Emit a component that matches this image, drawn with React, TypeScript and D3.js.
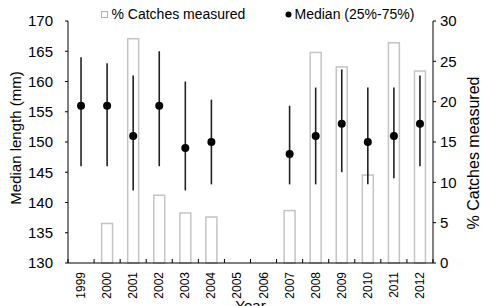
import React from 'react';
import * as d3 from 'd3';

const years = ['1999', '2000', '2001', '2002', '2003', '2004', '2005', '2006', '2007', '2008', '2009', '2010', '2011', '2012'];
// % catches measured (right axis); null = no bar
const pctMeasured = [null, 4.9, 27.8, 8.4, 6.2, 5.7, null, null, 6.5, 26.1, 24.3, 10.9, 27.3, 23.8];
// median length and 25%-75% range (left axis)
const median = [156, 156, 151, 156, 149, 150, null, null, 148, 151, 153, 150, 151, 153];
const q25 = [146, 146, 142, 146, 142, 143, null, null, 143, 143, 145, 143, 144, 146];
const q75 = [164, 163, 161, 165, 160, 157, null, null, 156, 159, 162, 159, 159, 161];
const leftTicks = [130, 135, 140, 145, 150, 155, 160, 165, 170];
const rightTicks = [0, 5, 10, 15, 20, 25, 30];

const W = 481;
const H = 306;
const margin = { top: 21, right: 48, bottom: 43, left: 68 };
const font = "'Liberation Sans', Arial, sans-serif";

export default function App() {
  const x0 = margin.left;
  const x1 = W - margin.right;
  const y0 = H - margin.bottom;
  const y1 = margin.top;

  const x = d3.scaleBand().domain(years).range([x0, x1]);
  const yL = d3.scaleLinear().domain([130, 170]).range([y0, y1]);
  const yR = d3.scaleLinear().domain([0, 30]).range([y0, y1]);
  const bw = x.bandwidth();
  const barW = bw * 0.42;
  const boundaries = d3.range(years.length + 1).map(i => x0 + i * bw);

  return (
    <svg width={W} height={H} style={{ position: 'absolute', left: 0, top: 0, background: '#fff' }} fontFamily={font}>
      {/* bars */}
      {years.map((yr, i) => pctMeasured[i] == null ? null : (
        <rect key={'b' + yr}
          x={x(yr)! + bw / 2 - barW / 2} y={yR(pctMeasured[i]!)}
          width={barW} height={y0 - yR(pctMeasured[i]!)}
          fill="#fff" stroke="#c4c4c4" strokeWidth={1.5} />
      ))}
      {/* whiskers and medians */}
      {years.map((yr, i) => median[i] == null ? null : (
        <g key={'m' + yr}>
          <line x1={x(yr)! + bw / 2} x2={x(yr)! + bw / 2} y1={yL(q25[i]!)} y2={yL(q75[i]!)} stroke="#222" strokeWidth={1.6} />
          <circle cx={x(yr)! + bw / 2} cy={yL(median[i]!)} r={4} fill="#000" />
        </g>
      ))}
      {/* axes */}
      <g stroke="#000" strokeWidth={1}>
        <line x1={x0} x2={x0} y1={y1} y2={y0} />
        <line x1={x1} x2={x1} y1={y1} y2={y0} />
        <line x1={x0} x2={x1} y1={y0} y2={y0} />
        {leftTicks.map(t => <line key={'lt' + t} x1={x0 - 3} x2={x0} y1={yL(t)} y2={yL(t)} />)}
        {rightTicks.map(t => <line key={'rt' + t} x1={x1} x2={x1 + 3} y1={yR(t)} y2={yR(t)} />)}
        {boundaries.map((b, i) => <line key={'bt' + i} x1={b} x2={b} y1={y0} y2={y0 - 4} />)}
      </g>
      {leftTicks.map(t => (
        <text key={'ll' + t} x={x0 - 15} y={yL(t)} dy="0.36em" textAnchor="end" fontSize={15}>{t}</text>
      ))}
      {rightTicks.map(t => (
        <text key={'rl' + t} x={x1 + 7} y={yR(t)} dy="0.36em" textAnchor="start" fontSize={15}>{t}</text>
      ))}
      {years.map(yr => (
        <text key={'xl' + yr} transform={`translate(${x(yr)! + bw / 2 + 4},${y0 + 9}) rotate(-90)`}
          textAnchor="end" fontSize={12}>{yr}</text>
      ))}
      <text x={(x0 + x1) / 2} y={311} textAnchor="middle" fontSize={15}>Year</text>
      <text transform={`translate(21,138) rotate(-90)`} textAnchor="middle" fontSize={15}>Median length (mm)</text>
      <text transform={`translate(479,153) rotate(-90)`} textAnchor="middle" fontSize={16}>% Catches measured</text>
      {/* legend */}
      <rect x={101.5} y={11.5} width={6} height={6} fill="#fff" stroke="#b0b0b0" strokeWidth={1} />
      <text x={111.5} y={19} fontSize={14}>% Catches measured</text>
      <circle cx={288.5} cy={14.5} r={3} fill="#000" />
      <text x={294.5} y={19} fontSize={14}>Median (25%-75%)</text>
    </svg>
  );
}
